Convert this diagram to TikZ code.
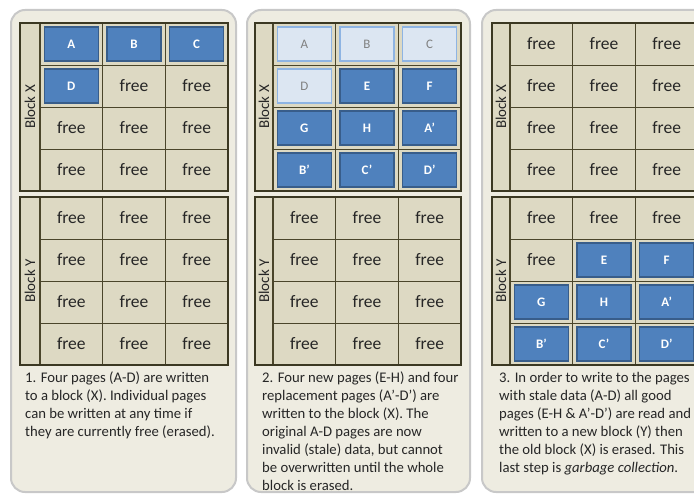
\documentclass[tikz,border=0pt]{standalone}
\usepackage{fontspec}
\setmainfont{Carlito}
\definecolor{panelbg}{HTML}{EEECE1}
\definecolor{panelline}{HTML}{C8C8C8}
\definecolor{cellfill}{HTML}{DDD9C3}
\definecolor{gridcol}{HTML}{4A452A}
\definecolor{framecol}{HTML}{3B3822}
\definecolor{pageblue}{HTML}{4F81BD}
\definecolor{pageedge}{HTML}{385D8A}
\definecolor{stalefill}{HTML}{DCE6F2}
\definecolor{staleedge}{HTML}{8EB4E3}
\definecolor{staletext}{HTML}{808080}
\definecolor{txt}{HTML}{262626}
\def\colw{62.67}
\def\rowh{42}
\tikzset{
  panel/.style={fill=panelbg, draw=panelline, line width=2pt, rounded corners=14pt},
  cell/.style={draw=gridcol, line width=0.9pt, fill=cellfill, minimum width=\colw, minimum height=\rowh, inner sep=0pt, outer sep=0pt},
  labcol/.style={draw=gridcol, line width=1.8pt, fill=cellfill, inner sep=0pt, outer sep=0pt},
  labtext/.style={text=txt, font=\fontsize{15}{17}\selectfont, inner sep=0pt},
  frame/.style={draw=framecol, line width=2.6pt},
  freetxt/.style={text=txt, font=\fontsize{17.5}{19}\selectfont, inner sep=0pt},
  page/.style={fill=pageblue, draw=pageedge, line width=1.3pt, minimum width=54, minimum height=34, inner sep=0pt, text=white, font=\fontsize{13}{15}\selectfont\bfseries},
  stale/.style={fill=stalefill, draw=staleedge, line width=1.3pt, minimum width=54, minimum height=34, inner sep=0pt, text=staletext, font=\fontsize{13}{15}\selectfont},
  captxt/.style={text=txt, font=\fontsize{14.7}{18}\selectfont, inner sep=0pt, anchor=base west}
}
\newcommand\blockgrid[5]{%
  \foreach \rr in {1,...,4}{\foreach \cc in {1,...,3}{
    \node[cell] (#1-\rr-\cc) at ({#2+#4+(\cc-0.5)*\colw},{#3+(\rr-0.5)*\rowh}) {};}}
  \node[labcol, minimum width=#4, minimum height=4*\rowh] (#1-lab) at ({#2+#4/2},{#3+2*\rowh}) {};
  \node[labtext, rotate=90] (#1-labt) at (#1-lab) {#5};
  \draw[frame] (#2,#3) rectangle ({#2+#4+3*\colw},{#3+4*\rowh});
}
\begin{document}
\begin{tikzpicture}[x=1pt,y=-1pt]
\useasboundingbox (0,0) rectangle (694,495);
\clip (0,0) rectangle (694,495);
\fill[white] (0,0) rectangle (694,495);
% panels
\draw[panel] (11,10) rectangle (236,492);
\draw[panel] (247,10) rectangle (470,492);
\draw[panel] (482,10) rectangle (720,492);
% panel 1
\blockgrid{p1x}{20}{23}{20}{Block X}
\blockgrid{p1y}{20}{197}{20}{Block Y}
\foreach \pos/\t in {1-1/A,1-2/B,1-3/C,2-1/D}
  \node[page] (p1x-\pos-pg) at (p1x-\pos) {\t};
\foreach \pos in {2-2,2-3,3-1,3-2,3-3,4-1,4-2,4-3}
  \node[freetxt] (p1x-\pos-f) at (p1x-\pos) {free};
\foreach \pos in {1-1,1-2,1-3,2-1,2-2,2-3,3-1,3-2,3-3,4-1,4-2,4-3}
  \node[freetxt] (p1y-\pos-f) at (p1y-\pos) {free};
\foreach \t [count=\i] in {{1. Four pages (A-D) are written},{to a block (X). Individual pages},{can be written at any time if},{they are currently free (erased).}}
  \node[captxt] (c1-\i) at (25,{382+(\i-1)*18}) {\t};
% panel 2
\blockgrid{p2x}{255}{23}{18}{Block X}
\blockgrid{p2y}{255}{197}{18}{Block Y}
\foreach \pos/\t in {1-1/A,1-2/B,1-3/C,2-1/D}
  \node[stale] (p2x-\pos-pg) at (p2x-\pos) {\t};
\foreach \pos/\t in {2-2/E,2-3/F,3-1/G,3-2/H,3-3/A’,4-1/B’,4-2/C’,4-3/D’}
  \node[page] (p2x-\pos-pg) at (p2x-\pos) {\t};
\foreach \pos in {1-1,1-2,1-3,2-1,2-2,2-3,3-1,3-2,3-3,4-1,4-2,4-3}
  \node[freetxt] (p2y-\pos-f) at (p2y-\pos) {free};
\foreach \t [count=\i] in {{2. Four new pages (E-H) and four},{replacement pages (A’-D’) are},{written to the block (X). The},{original A-D pages are now},{invalid (stale) data, but cannot},{be overwritten until the whole},{block is erased.}}
  \node[captxt] (c2-\i) at (262,{382+(\i-1)*18}) {\t};
% panel 3
\blockgrid{p3x}{492}{23}{18}{Block X}
\blockgrid{p3y}{492}{197}{18}{Block Y}
\foreach \pos in {1-1,1-2,1-3,2-1,2-2,2-3,3-1,3-2,3-3,4-1,4-2,4-3}
  \node[freetxt] (p3x-\pos-f) at (p3x-\pos) {free};
\foreach \pos in {1-1,1-2,1-3,2-1}
  \node[freetxt] (p3y-\pos-f) at (p3y-\pos) {free};
\foreach \pos/\t in {2-2/E,2-3/F,3-1/G,3-2/H,3-3/A’,4-1/B’,4-2/C’,4-3/D’}
  \node[page] (p3y-\pos-pg) at (p3y-\pos) {\t};
\foreach \t [count=\i] in {{3. In order to write to the pages},{with stale data (A-D) all good},{pages (E-H \& A’-D’) are read and},{written to a new block (Y) then},{the old block (X) is erased. This},{last step is \textit{garbage collection}.}}
  \node[captxt] (c3-\i) at (499,{382+(\i-1)*18}) {\t};
\end{tikzpicture}
\end{document}
